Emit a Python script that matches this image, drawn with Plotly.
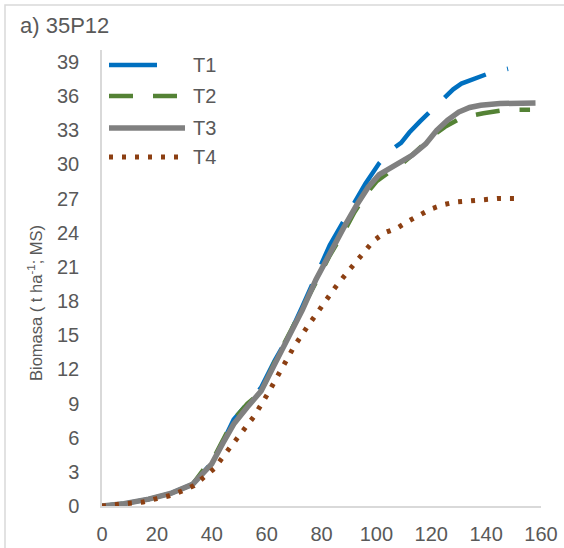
import plotly.graph_objects as go

# ---- data ----
t1_x = [0, 8, 17, 25, 33, 37, 40, 44, 48, 53, 58, 63, 68, 73, 78, 83, 88, 92, 96, 101,
        105, 109, 112, 116, 120, 124, 128, 131, 136, 141, 148]
t1_y = [0, 0.2, 0.6, 1.1, 1.9, 3.0, 3.8, 5.6, 7.6, 9.0, 10.4, 12.8, 14.9, 17.5, 20.3, 22.9,
        25.0, 26.6, 28.3, 30.1, 31.2, 31.9, 32.8, 33.8, 34.7, 35.7, 36.6, 37.1, 37.6, 38.0, 38.4]

t2_x = [0, 8, 17, 25, 33, 37, 40, 44, 48, 53, 58, 63, 68, 73, 78, 83, 88, 92, 96, 100,
        104, 108, 112, 117, 121, 125, 131, 139, 147, 156]
t2_y = [0, 0.2, 0.6, 1.1, 1.9, 3.2, 3.9, 5.7, 7.6, 9.0, 10.0, 12.7, 15.0, 17.5, 19.8, 22.0,
        24.0, 25.8, 27.3, 28.5, 29.2, 29.8, 30.6, 31.7, 32.6, 33.3, 34.1, 34.5, 34.8, 34.8]

t3_x = [0, 8, 17, 25, 33, 37, 40, 44, 48, 53, 58, 63, 68, 73, 78, 83, 88, 93, 97, 101,
        105, 109, 113, 118, 122, 126, 130, 134, 138, 145, 152, 158]
t3_y = [0, 0.2, 0.6, 1.1, 1.9, 2.9, 3.7, 5.5, 7.2, 8.7, 10.1, 12.5, 14.8, 17.2, 19.9, 22.2,
        24.4, 26.5, 28.0, 29.1, 29.7, 30.2, 30.8, 31.8, 33.0, 33.9, 34.6, 35.0, 35.2, 35.35, 35.4, 35.4]

t4_x = [0, 6, 10.5, 15, 20, 24.5, 29, 33.5, 37.5, 41, 44, 47, 50, 55.5, 60.5, 65, 70, 75,
        80, 85, 90, 95, 99, 103, 107.5, 111.5, 116, 120, 125, 129, 134, 144, 153]
t4_y = [0, 0.1, 0.2, 0.35, 0.65, 0.9, 1.3, 1.8, 2.6, 3.3, 4.3, 5.2, 6.1, 7.9, 9.9, 11.9, 14.0,
        15.8, 17.5, 19.2, 20.7, 22.1, 23.3, 24.0, 24.4, 25.0, 25.6, 26.1, 26.5, 26.7, 26.8, 27.0, 27.0]

names = ["T1", "T2", "T3", "T4"]
y_ticks = list(range(0, 40, 3))
x_ticks = list(range(0, 161, 20))

# ---- styles ----
colors = ["#0070C0", "#548235", "#808080", "#8C3F12"]
dashes = ["48px,22px", "24px,20px", "solid", "4px,9px"]
widths = [4.5, 4.5, 5.5, 5]
series = [(t1_x, t1_y), (t2_x, t2_y), (t3_x, t3_y), (t4_x, t4_y)]

fig = go.Figure()
for (xs, ys), n, c, d, w in zip(series, names, colors, dashes, widths):
    fig.add_trace(go.Scatter(x=xs, y=ys, mode="lines", name=n,
                             line=dict(color=c, dash=d, width=w), showlegend=False))

# plot area in pixels
L, R, T, B = 102, 541, 50, 506
W, H = R - L, B - T


def px(p):
    return (p - L) / W


def py(p):
    return (B - p) / H


font = "Liberation Sans, Arial, sans-serif"
txt = "#595959"

shapes = []
annotations = []
# outer chart border
shapes.append(dict(type="rect", xref="paper", yref="paper", x0=px(5), x1=px(600),
                   y0=py(600), y1=py(5), line=dict(color="#D9D9D9", width=1.5)))

# custom legend
leg_y = [65, 96, 128, 157]
leg_x1 = [168, 182, 185, 182]
for i, n in enumerate(names):
    shapes.append(dict(type="line", xref="paper", yref="paper",
                       x0=px(109), x1=px(leg_x1[i]), y0=py(leg_y[i]), y1=py(leg_y[i]),
                       line=dict(color=colors[i], width=widths[i], dash=dashes[i])))
    annotations.append(dict(xref="paper", yref="paper", x=px(191), y=py(leg_y[i]),
                            text=n, showarrow=False, xanchor="left", yanchor="middle",
                            font=dict(family=font, size=20, color=txt)))

# title
annotations.append(dict(xref="paper", yref="paper", x=px(18), y=py(25), text="a) 35P12",
                        showarrow=False, xanchor="left", yanchor="middle",
                        font=dict(family=font, size=22, color=txt)))
# y-axis title
annotations.append(dict(xref="paper", yref="paper", x=px(35), y=py(303),
                        text="Biomasa ( t ha<sup>-1</sup>; MS)", textangle=-90,
                        showarrow=False, xanchor="center", yanchor="middle",
                        font=dict(family=font, size=16.5, color=txt)))

fig.update_layout(
    template="none",
    width=564, height=548,
    margin=dict(l=L, r=564 - R, t=T, b=548 - B, autoexpand=False),
    paper_bgcolor="white", plot_bgcolor="white",
    shapes=shapes, annotations=annotations,
    showlegend=False,
)
fig.update_xaxes(range=[0, 160], tickvals=x_ticks, showgrid=False, zeroline=False,
                 showline=True, linecolor="#D9D9D9", linewidth=1.5, ticks="",
                 automargin=False, ticklabelstandoff=9,
                 tickfont=dict(family=font, size=20, color=txt))
fig.update_yaxes(range=[0, 40.05], tickvals=y_ticks, showgrid=False, zeroline=False,
                 showline=True, linecolor="#D9D9D9", linewidth=1.5, ticks="",
                 automargin=False, ticklabelstandoff=17,
                 tickfont=dict(family=font, size=20, color=txt))

fig.write_html("out.html", config={"displayModeBar": False},
               post_script="document.body.style.margin='0';")
